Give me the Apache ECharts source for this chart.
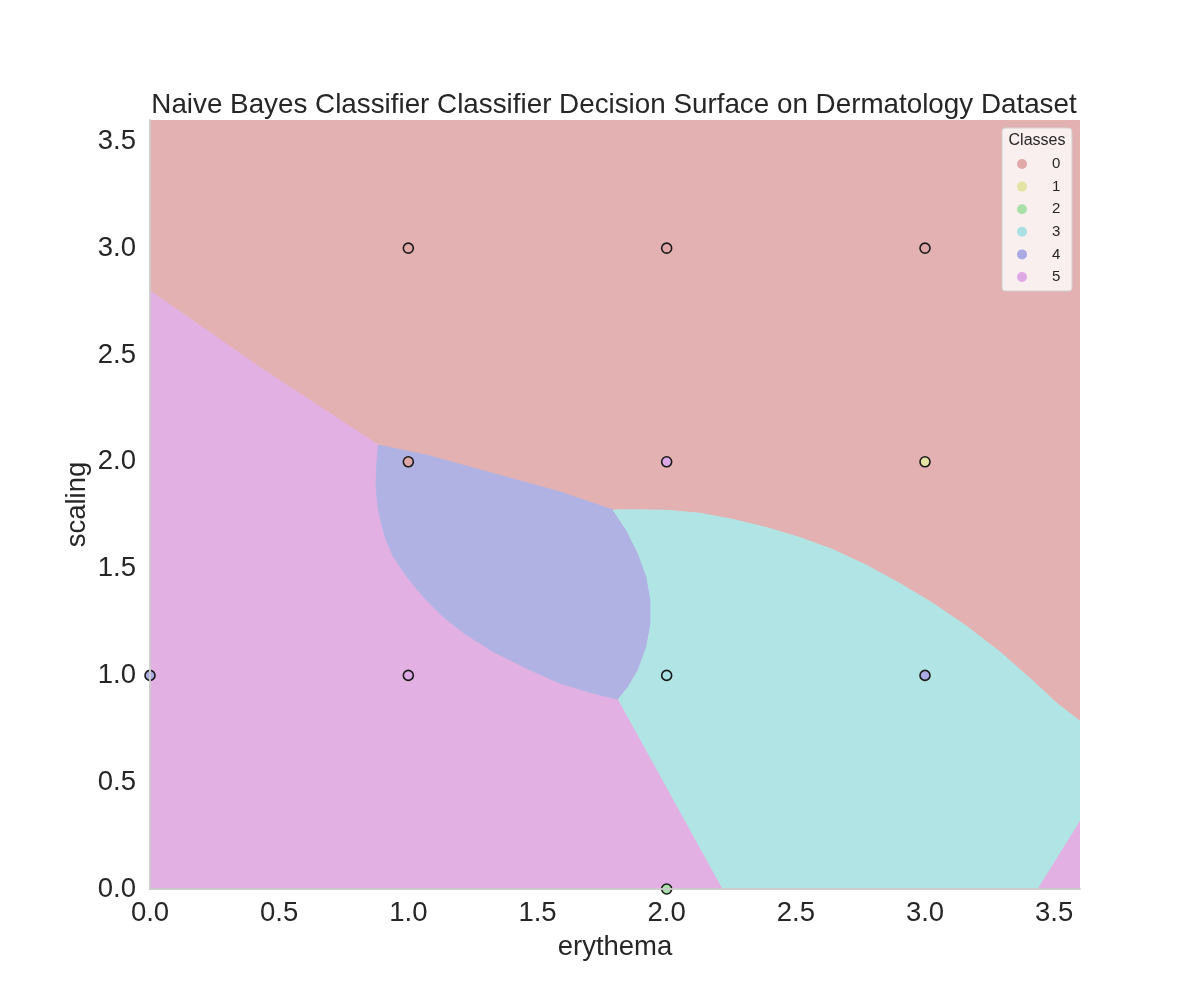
<!DOCTYPE html>
<html>
<head>
<meta charset="utf-8">
<script src="https://cdn.jsdelivr.net/npm/echarts@6/dist/echarts.min.js"></script>
<style>
  html, body { margin: 0; padding: 0; background: #fff; }
  #main { width: 1200px; height: 1000px; }
</style>
</head>
<body>
<div id="main"></div>
<script>
// 类别与刻度
var classNames = ['0', '1', '2', '3', '4', '5'];
var xTicks = [0, 0.5, 1.0, 1.5, 2.0, 2.5, 3.0, 3.5];
var yTicks = [0, 0.5, 1.0, 1.5, 2.0, 2.5, 3.0, 3.5];

// 样本点 (erythema, scaling)，按类别
var pts0 = [[1, 3], [2, 3], [3, 3], [1, 2]];
var pts1 = [[3, 2]];
var pts2 = [[2, 0]];
var pts3 = [[2, 1]];
var pts4 = [[0, 1], [3, 1]];
var pts5 = [[1, 1], [2, 2]];

// 决策边界
var edgeTop5 = [[0, 2.80], [0.44, 2.43], [0.884, 2.078]];
var edge04 = [[0.884, 2.078], [1.071, 2.031], [1.329, 1.945], [1.587, 1.859], [1.793, 1.774]];
var edge03 = [[1.793, 1.774], [1.871, 1.775], [2.0, 1.773], [2.129, 1.759], [2.258, 1.730], [2.387, 1.692],
    [2.516, 1.645], [2.645, 1.588], [2.774, 1.515], [2.903, 1.430], [3.032, 1.336], [3.161, 1.230],
    [3.290, 1.110], [3.419, 0.972], [3.51, 0.87], [3.6, 0.785]];
var edge43 = [[1.793, 1.774], [1.845, 1.680], [1.890, 1.571], [1.923, 1.462], [1.939, 1.352], [1.939, 1.244],
    [1.923, 1.134], [1.890, 1.025], [1.852, 0.947], [1.813, 0.888]];
var edge45 = [[1.813, 0.888], [1.716, 0.916], [1.587, 0.963], [1.458, 1.033], [1.329, 1.111], [1.226, 1.189],
    [1.135, 1.274], [1.058, 1.368], [0.994, 1.462], [0.942, 1.556], [0.910, 1.649], [0.884, 1.774],
    [0.875, 1.883], [0.878, 1.992], [0.884, 2.078]];
var edge35 = [[1.813, 0.888], [2.218, 0]];
var edge35b = [[3.6, 0.323], [3.434, 0]];

var pointColors = ['#e0a8a8', '#e3e3a3', '#a8e0a8', '#a8e0e3', '#a9a9e3', '#dfa9e6'];
var regionColors = ['#e3b1b1', '#e3e3b1', '#b1e3b1', '#b1e4e4', '#b0b2e3', '#e3b0e3'];

function rev(a) { return a.slice().reverse(); }

var regions = [
    { cls: 0, pts: [[0, 3.6], [3.6, 3.6]].concat(rev(edge03), rev(edge04).slice(1), rev(edgeTop5).slice(1)) },
    { cls: 5, pts: [[0, 0]].concat(edgeTop5, rev(edge45).slice(1), edge35.slice(1)) },
    { cls: 5, pts: edge35b.concat([[3.6, 0]]) },
    { cls: 4, pts: edge04.concat(edge43.slice(1), edge45.slice(1)) },
    { cls: 3, pts: edge03.concat(edge35b, rev(edge35), rev(edge43).slice(1)) }
];

var myChart = echarts.init(document.getElementById('main'));

var txt = '#262626';
var font = "'Liberation Sans', Arial, sans-serif";
var fs = 27.5;
var allPts = [pts0, pts1, pts2, pts3, pts4, pts5];

var series = [{
    name: 'regions',
    type: 'custom',
    silent: true,
    clip: true,
    z: 1,
    data: regions.map(function (r, i) { return [i]; }),
    encode: { x: 0 },
    renderItem: function (params, api) {
        var r = regions[params.dataIndex];
        var c = regionColors[r.cls];
        return {
            type: 'polygon',
            shape: { points: r.pts.map(function (p) { return api.coord(p); }) },
            style: { fill: c, stroke: c, lineWidth: 1 }
        };
    }
}];

classNames.forEach(function (name, i) {
    series.push({
        name: name,
        type: 'scatter',
        clip: true,
        z: 3,
        symbolSize: 10,
        itemStyle: { color: pointColors[i], borderColor: '#1a1a1a', borderWidth: 1.6, opacity: 1 },
        data: allPts[i]
    });
});

var option = {
    animation: false,
    textStyle: { fontFamily: font },
    title: {
        text: 'Naive Bayes Classifier Classifier Decision Surface on Dermatology Dataset',
        left: 609,
        textAlign: 'center',
        top: 86,
        textStyle: { fontSize: 27.8, fontWeight: 'normal', color: txt, fontFamily: font }
    },
    grid: { left: 150, top: 120, width: 930, height: 769 },
    legend: {
        z: 20,
        orient: 'vertical',
        left: 1012,
        top: 151,
        data: classNames,
        icon: 'circle',
        itemWidth: 28,
        itemHeight: 10,
        itemGap: 6.6,
        itemStyle: { borderWidth: 0 },
        formatter: function (n) { return '{a|' + n + '}'; },
        textStyle: {
            fontSize: 15, color: txt, fontFamily: font, lineHeight: 16,
            rich: { a: { fontSize: 15, color: txt, padding: [0, 0, 0, 11], fontFamily: font } }
        }
    },
    graphic: [
        {
            type: 'rect', z: 15,
            shape: { x: 1002, y: 128, width: 70, height: 163, r: 3 },
            style: { fill: 'rgba(255,255,255,0.8)', stroke: '#d0d0d0', lineWidth: 1 }
        },
        {
            type: 'text', z: 16,
            style: { x: 1037, y: 141, text: 'Classes', fontSize: 16, fill: txt, fontFamily: font, align: 'center', verticalAlign: 'middle' }
        }
    ],
    xAxis: [{
        type: 'value', min: 0, max: 3.6, z: 10,
        name: 'erythema', nameLocation: 'middle', nameGap: 44, nameMoveOverlap: false,
        nameTextStyle: { fontSize: fs, color: txt, fontFamily: font },
        axisLine: { show: true, lineStyle: { color: '#cccccc', width: 1.5 } },
        axisTick: { show: false },
        splitLine: { show: false },
        axisLabel: {
            customValues: xTicks, fontSize: fs, color: txt, margin: 10, fontFamily: font,
            formatter: function (v) { return v.toFixed(1); }
        }
    }, {
        type: 'value', min: 0, max: 3.6, position: 'top', z: 10,
        axisLine: { show: true, lineStyle: { color: '#cccccc', width: 1.5 } },
        axisTick: { show: false }, axisLabel: { show: false }, splitLine: { show: false }
    }],
    yAxis: [{
        type: 'value', min: 0, max: 3.6, z: 10,
        name: 'scaling', nameLocation: 'middle', nameGap: 59, nameMoveOverlap: false,
        nameTextStyle: { fontSize: fs, color: txt, fontFamily: font },
        axisLine: { show: true, lineStyle: { color: '#cccccc', width: 1.5 } },
        axisTick: { show: false },
        splitLine: { show: false },
        axisLabel: {
            customValues: yTicks, fontSize: fs, color: txt, margin: 14, fontFamily: font,
            formatter: function (v) { return v.toFixed(1); }
        }
    }, {
        type: 'value', min: 0, max: 3.6, position: 'right', z: 10,
        axisLine: { show: true, lineStyle: { color: '#cccccc', width: 1.5 } },
        axisTick: { show: false }, axisLabel: { show: false }, splitLine: { show: false }
    }],
    series: series
};

myChart.setOption(option);
</script>
</body>
</html>
